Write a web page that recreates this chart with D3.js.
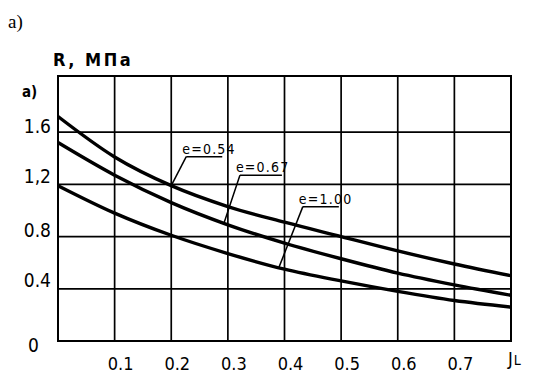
<!DOCTYPE html>
<html>
<head>
<meta charset="utf-8">
<script src="https://cdn.jsdelivr.net/npm/d3@7"></script>
<style>
  html, body { margin: 0; padding: 0; background: #fff; }
  svg { display: block; }
  .num { font-family: "DejaVu Sans Condensed", "Liberation Sans Narrow", sans-serif; fill: #000; }
</style>
</head>
<body>
<svg id="chart" width="534" height="376"></svg>
<script>
// ---- data ----
const IL = [0, 0.1, 0.2, 0.3, 0.4, 0.5, 0.6, 0.7, 0.8];
const R_e054 = [1.72, 1.41, 1.19, 1.03, 0.91, 0.80, 0.69, 0.59, 0.50];
const R_e067 = [1.52, 1.27, 1.06, 0.89, 0.75, 0.63, 0.52, 0.43, 0.35];
const R_e100 = [1.19, 0.98, 0.81, 0.67, 0.55, 0.46, 0.38, 0.31, 0.26];
const seriesNames = ["e=0.54", "e=0.67", "e=1.00"];
const xTicks = [0.1, 0.2, 0.3, 0.4, 0.5, 0.6, 0.7];
const xTickLabels = ["0.1", "0.2", "0.3", "0.4", "0.5", "0.6", "0.7"];
const yTicks = [0, 0.4, 0.8, 1.2, 1.6];
const yTickLabels = ["0", "0.4", "0.8", "1,2", "1.6"];
const annotAt = [0.2, 0.293, 0.39]; // IL value where each leader touches its curve

(function () {
// ---- layout ----
const svg = d3.select("#chart");
const pL = 58, pR = 511, pT = 76, pB = 341;
const x = d3.scaleLinear().domain([0, 0.8]).range([pL, pR]);
const y = d3.scaleLinear().domain([0, 2.03]).range([pB, pT]);

// grid
const g = svg.append("g");
g.selectAll(".vg").data(xTicks).enter().append("line")
  .attr("x1", d => x(d)).attr("x2", d => x(d))
  .attr("y1", pT).attr("y2", pB)
  .attr("stroke", "#000").attr("stroke-width", 1.7);
g.selectAll(".hg").data(yTicks.filter(d => d > 0)).enter().append("line")
  .attr("x1", pL).attr("x2", pR)
  .attr("y1", d => y(d)).attr("y2", d => y(d))
  .attr("stroke", "#000").attr("stroke-width", 1.7);
// frame
g.append("rect").attr("x", pL).attr("y", pT)
  .attr("width", pR - pL).attr("height", pB - pT)
  .attr("fill", "none").attr("stroke", "#000").attr("stroke-width", 2);

// curves
const all = [R_e054, R_e067, R_e100];
const line = d3.line().x((d, i) => x(IL[i])).y(d => y(d)).curve(d3.curveMonotoneX);
svg.selectAll(".curve").data(all).enter().append("path")
  .attr("d", d => line(d))
  .attr("fill", "none").attr("stroke", "#000").attr("stroke-width", 3.4);

// interpolation helper for anchors
function valAt(series, xv) {
  const i = Math.min(IL.length - 2, Math.floor(xv / 0.1));
  const t = (xv - IL[i]) / (IL[i + 1] - IL[i]);
  return series[i] + t * (series[i + 1] - series[i]);
}

// annotations
const annotOffsets = [[15, -29, 36], [16, -48, 42], [24, -61, 36]];
all.forEach((s, k) => {
  const ax = x(annotAt[k]), ay = y(valAt(s, annotAt[k]));
  const [dx, dy, w] = annotOffsets[k];
  const ux = ax + dx, uy = ay + dy;
  svg.append("line").attr("x1", ax).attr("y1", ay).attr("x2", ux).attr("y2", uy)
    .attr("stroke", "#000").attr("stroke-width", 1.5);
  svg.append("line").attr("x1", ux).attr("y1", uy).attr("x2", ux + w).attr("y2", uy)
    .attr("stroke", "#000").attr("stroke-width", 1.5);
  svg.append("text").attr("class", "num")
    .attr("x", ux - 4).attr("y", uy - 3)
    .attr("font-size", 14).attr("letter-spacing", 1.2)
    .text(seriesNames[k]);
});

// y tick labels
const yDy = [11, -2, 0, -1, 1];
svg.selectAll(".yl").data(yTicks).enter().append("text")
  .attr("class", "num")
  .attr("x", (d, i) => i === 0 ? 28 : 51)
  .attr("y", (d, i) => y(d) + yDy[i])
  .attr("text-anchor", (d, i) => i === 0 ? "start" : "end")
  .attr("font-size", 19)
  .text((d, i) => yTickLabels[i]);

// x tick labels
svg.selectAll(".xl").data(xTicks).enter().append("text")
  .attr("class", "num")
  .attr("x", d => x(d) + 6)
  .attr("y", 370)
  .attr("text-anchor", "middle")
  .attr("font-size", 18)
  .text((d, i) => xTickLabels[i]);

// x axis name
const xn = svg.append("text").attr("class", "num").attr("x", 508).attr("y", 365).attr("font-size", 18);
xn.append("tspan").text("J");
xn.append("tspan").attr("font-size", 14).attr("dx", 1).text("L");

// y axis name
svg.append("text").attr("class", "num").attr("x", 53).attr("y", 66)
  .attr("font-size", 18).attr("font-weight", "bold").attr("letter-spacing", 2.5).text("R, МПа");

// inner a)
svg.append("text").attr("class", "num").attr("x", 22).attr("y", 97)
  .attr("font-size", 15).attr("font-weight", "bold").text("a)");

// title a)
svg.append("text").attr("x", 8).attr("y", 28)
  .attr("font-family", "Liberation Serif, serif").attr("font-size", 19).text("a)");
})();
</script>
</body>
</html>
